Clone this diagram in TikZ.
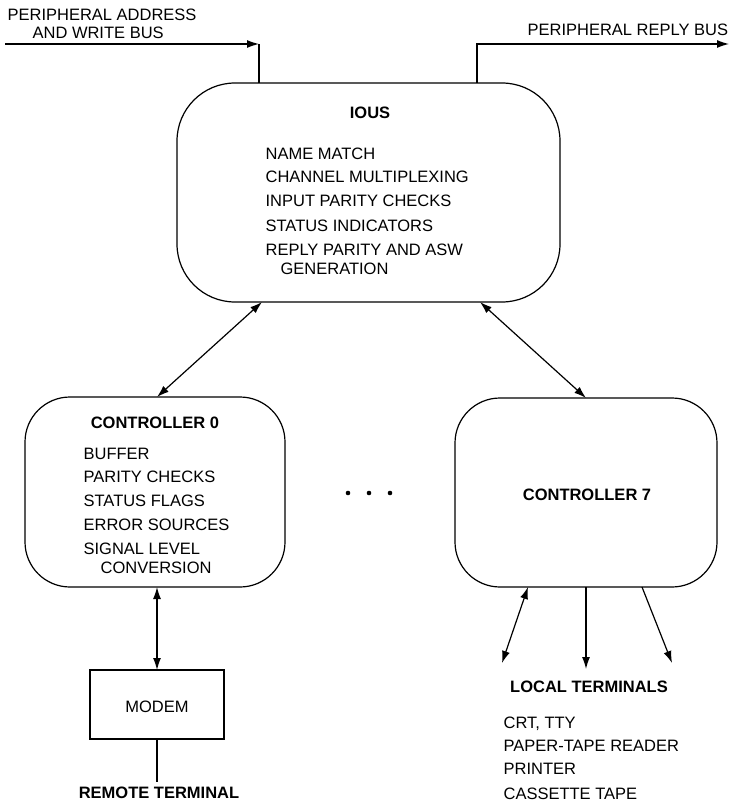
\documentclass[tikz,border=0pt]{standalone}
\usepackage{fontspec}
\setmainfont{Liberation Sans}
\usetikzlibrary{arrows.meta}
\begin{document}
\begin{tikzpicture}[x=1pt,y=-1pt,
  every path/.style={line width=1.2pt},
  box/.style={draw, outer sep=0pt, inner sep=0pt},
  blk/.style={box, rounded corners=#1},
  txt/.style={inner sep=0pt, anchor=west, text height=12pt, text depth=0pt, font=\fontsize{16.5}{19}\selectfont},
  ttl/.style={inner sep=0pt, anchor=center, text height=12pt, text depth=0pt, font=\fontsize{16.5}{19}\selectfont\bfseries},
  tip/.style={-{Latex[length=12pt,width=8pt]}},
  tips/.style={{Latex[length=12pt,width=8pt]}-{Latex[length=12pt,width=8pt]}}]
\useasboundingbox (0,0) rectangle (730,802);

% blocks
\node[blk=58pt, minimum width=383pt, minimum height=219pt] (ious) at (368.5,192.5) {};
\node[blk=45pt, minimum width=260pt, minimum height=190pt] (c0) at (155,492) {};
\node[blk=45pt, minimum width=262pt, minimum height=189pt] (c7) at (586,492.5) {};
\node[box, minimum width=134pt, minimum height=69pt] (modem) at (157,704.5) {};

% texts
\node[txt] (t1) at (7,15) {PERIPHERAL ADDRESS};
\node[txt] (t2) at (32,33) {AND WRITE BUS};
\node[txt] (t3) at (527,30) {PERIPHERAL REPLY BUS};

\node[ttl] (iousT) at (370,113) {IOUS};
\node[txt] (i1) at (265,154) {NAME MATCH};
\node[txt] (i2) at (265,177) {CHANNEL MULTIPLEXING};
\node[txt] (i3) at (265,201) {INPUT PARITY CHECKS};
\node[txt] (i4) at (265,225) {STATUS INDICATORS};
\node[txt] (i5) at (265,249) {REPLY PARITY AND ASW};
\node[txt] (i6) at (280,268) {GENERATION};

\node[ttl] (c0T) at (155,422) {CONTROLLER 0};
\node[txt] (b1) at (83,453) {BUFFER};
\node[txt] (b2) at (83,476) {PARITY CHECKS};
\node[txt] (b3) at (83,500) {STATUS FLAGS};
\node[txt] (b4) at (83,524) {ERROR SOURCES};
\node[txt] (b5) at (83,548) {SIGNAL LEVEL};
\node[txt] (b6) at (100,567) {CONVERSION};

\node[ttl] (c7T) at (587,494) {CONTROLLER 7};
\node[txt, anchor=center] (modT) at (157,706) {MODEM};
\node[ttl] (remT) at (159,792) {REMOTE TERMINAL};
\node[ttl] (locT) at (589,686) {LOCAL TERMINALS};
\node[txt] (l1) at (503,722) {CRT, TTY};
\node[txt] (l2) at (503,745) {PAPER-TAPE READER};
\node[txt] (l3) at (503,768) {PRINTER};
\node[txt] (l4) at (503,793) {CASSETTE TAPE};

% dots
\foreach \x in {348,369,390} \fill (\x,493) circle (2.3pt);

% buses
\coordinate (inL) at (5,44);
\coordinate (inC) at (259,44);
\coordinate (outC) at (477,44);
\coordinate (outR) at (729,44);
\draw[tip] (inL) -- (inC);
\draw (inC) -- ([xshift=82pt]ious.north west);
\draw[tip] ([xshift=-83pt]ious.north east) -- (outC) -- (outR);

% ious to controllers
\draw[tips] ([xshift=85pt]ious.south west) -- ([xshift=2pt]c0.north);
\draw[tips] ([xshift=-80pt]ious.south east) -- (c7.north);

% controller 0 to modem
\draw[tips] ([xshift=2pt]c0.south) -- (modem.north);
\coordinate (remTop) at (157,782);
\draw (modem.south) -- (remTop);

% controller 7 to local terminals
\coordinate (lt1) at (502,663);
\coordinate (lt2) at (586,669);
\coordinate (lt3) at (672,663);
\draw[tips] ([xshift=73pt]c7.south west) -- (lt1);
\draw[tip] (c7.south) -- (lt2);
\draw[tip] ([xshift=-75pt]c7.south east) -- (lt3);
\end{tikzpicture}
\end{document}
